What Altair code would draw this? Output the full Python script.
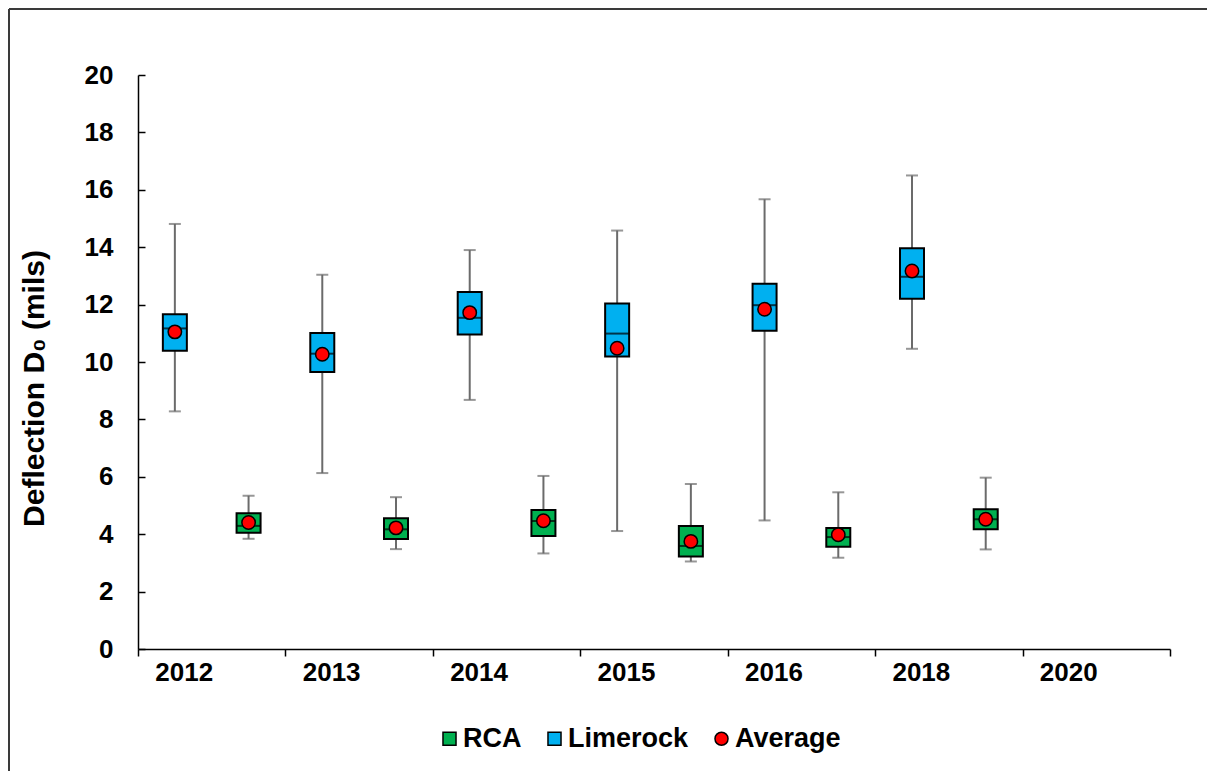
import altair as alt
import pandas as pd

# ---- data ----
years = ["2012", "2013", "2014", "2015", "2016", "2018"]
all_years = ["2012", "2013", "2014", "2015", "2016", "2018", "2020"]

lime_min = [8.28, 6.13, 8.68, 4.11, 4.48, 10.46]
lime_q1 = [10.39, 9.65, 10.96, 10.19, 11.09, 12.20]
lime_med = [11.17, 10.29, 11.54, 10.99, 11.98, 12.97]
lime_q3 = [11.66, 11.01, 12.44, 12.04, 12.73, 13.96]
lime_max = [14.81, 13.04, 13.90, 14.58, 15.67, 16.50]
lime_mean = [11.05, 10.27, 11.72, 10.48, 11.84, 13.17]

rca_min = [3.84, 3.48, 3.33, 3.05, 3.18, 3.47]
rca_q1 = [4.05, 3.83, 3.94, 3.22, 3.56, 4.17]
rca_med = [4.29, 4.17, 4.46, 3.59, 3.90, 4.52]
rca_q3 = [4.73, 4.56, 4.84, 4.29, 4.22, 4.87]
rca_max = [5.34, 5.29, 6.03, 5.75, 5.46, 5.97]
rca_mean = [4.41, 4.22, 4.47, 3.75, 3.98, 4.52]

keys = ["RCA", "Limerock", "Average"]
key_colors = ["#00B050", "#00B0F0", "#FF0000"]
key_shapes = ["square", "square", "circle"]
y_ticks = [0, 2, 4, 6, 8, 10, 12, 14, 16, 18, 20]

rows = []
for i, y in enumerate(years):
    rows.append(dict(year=y, mat="Limerock", mn=lime_min[i], q1=lime_q1[i], med=lime_med[i],
                     q3=lime_q3[i], mx=lime_max[i], mean=lime_mean[i]))
    rows.append(dict(year=y, mat="RCA", mn=rca_min[i], q1=rca_q1[i], med=rca_med[i],
                     q3=rca_q3[i], mx=rca_max[i], mean=rca_mean[i]))
df = pd.DataFrame(rows)

W, H = 1032, 574
FONT = "Liberation Sans"

xscale = alt.Scale(domain=all_years, paddingInner=0, paddingOuter=0)
xoff = alt.XOffset("mat:N", scale=alt.Scale(domain=["Limerock", "RCA"], paddingInner=0, paddingOuter=0))
yscale = alt.Scale(domain=[0, 20], nice=False, zero=True)

legend_kw = dict(title=None, orient="none", direction="horizontal",
                 legendX=298, legendY=650,
                 labelFont=FONT, labelFontSize=27, labelFontWeight="bold",
                 labelColor="black", symbolSize=170,
                 symbolStrokeColor="black", symbolStrokeWidth=1.5,
                 columnPadding=19, labelOffset=0)
color_enc = alt.Color("key:N", scale=alt.Scale(domain=keys, range=key_colors),
                      legend=alt.Legend(**legend_kw))
shape_enc = alt.Shape("key:N", scale=alt.Scale(domain=keys, range=key_shapes),
                      legend=alt.Legend(**legend_kw))

base = alt.Chart(df)

y_axis = alt.Axis(title="Deflection D\u2080 (mils)", values=y_ticks, labelFont=FONT,
                  labelFontSize=26, labelFontWeight="bold", labelColor="black",
                  ticks=False, labelPadding=25, domain=True, domainColor="black", domainWidth=1.5,
                  grid=False, titleFont=FONT, titleFontSize=30, titleFontWeight="bold",
                  titleColor="black", titleX=-89, titleY=313)
y_tick_axis = alt.Axis(orient="right", offset=-W, labels=False, domain=False, title=None,
                       values=y_ticks, tickSize=7, tickColor="black", tickWidth=1.5, grid=False)

X = alt.X("year:N", scale=xscale, title=None)

whisker = base.mark_rule(color="#6b6b6b", strokeWidth=2).encode(
    x=X,
    xOffset=xoff,
    y=alt.Y("mn:Q", scale=yscale, axis=y_axis),
    y2="mx:Q",
)
cap_lo = base.mark_tick(color="#6b6b6b", thickness=2, size=12).encode(
    x=X,
    xOffset=xoff,
    y=alt.Y("mn:Q", scale=yscale, axis=y_tick_axis),
)
cap_hi = base.mark_tick(color="#6b6b6b", thickness=2, size=12).encode(
    x=X,
    xOffset=xoff,
    y=alt.Y("mx:Q", scale=yscale, axis=None),
)
box = base.transform_calculate(key="datum.mat").mark_bar(
    width=24, stroke="black", strokeWidth=2, opacity=1).encode(
    x=X,
    xOffset=xoff,
    y=alt.Y("q1:Q", scale=yscale, axis=None),
    y2="q3:Q",
    color=color_enc,
)
median = base.mark_tick(color="black", thickness=2, size=24).encode(
    x=X,
    xOffset=xoff,
    y=alt.Y("med:Q", scale=yscale, axis=None),
)
mean_pts = base.transform_calculate(key="'Average'").mark_point(
    filled=True, size=180, stroke="black", strokeWidth=1.5, opacity=1).encode(
    x=X,
    xOffset=xoff,
    y=alt.Y("mean:Q", scale=yscale, axis=None),
    color=color_enc,
    shape=shape_enc,
)

frame_df = pd.DataFrame({"a": [0]})
frame_top = alt.Chart(frame_df).mark_rule(color="#3a3a3a", strokeWidth=2).encode(
    x=alt.value(-129), x2=alt.value(W + 40), y=alt.value(-66))
frame_left = alt.Chart(frame_df).mark_rule(color="#3a3a3a", strokeWidth=2).encode(
    x=alt.value(-129), y=alt.value(-66), y2=alt.value(H + 130))

chart = alt.layer(
    whisker, cap_lo, cap_hi, box, median, mean_pts, frame_top, frame_left
).resolve_axis(y="independent").properties(
    width=W, height=H,
    background="white",
    autosize=alt.AutoSizeParams(type="none"),
    padding={"left": 130, "top": 67, "right": 37, "bottom": 122},
).configure_view(strokeWidth=0, stroke="transparent").configure_axisX(
    labelFont=FONT, labelFontSize=26, labelFontWeight="bold",
    labelColor="black", labelAngle=0, labelOffset=-28, labelPadding=3,
    tickBand="extent", tickSize=7, tickColor="black", tickWidth=1.5,
    domainColor="black", domainWidth=1.5, grid=False
)

chart.save("out.html", embed_options={"renderer": "svg", "actions": False})
